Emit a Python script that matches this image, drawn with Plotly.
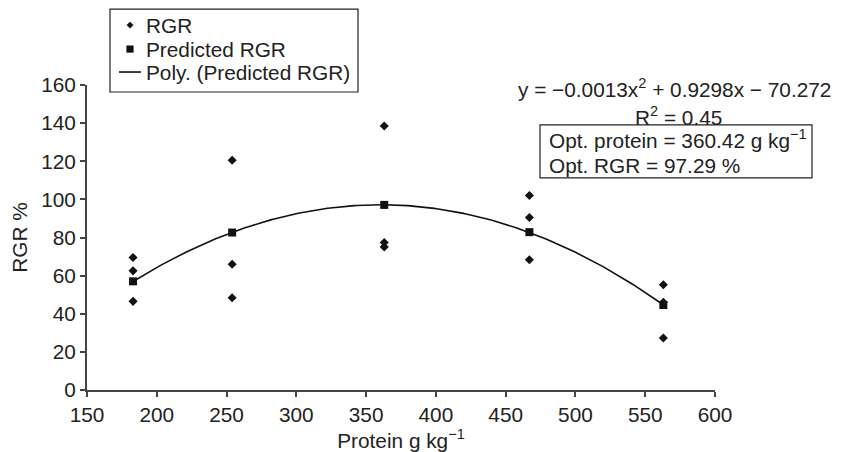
import numpy as np
import plotly.graph_objects as go

# ---- data ----
rgr_protein = [183, 183, 183, 254, 254, 254, 363, 363, 363, 467, 467, 467, 563, 563, 563]
rgr_values = [69.5, 62.5, 46.5, 120.5, 66.0, 48.4, 138.5, 77.4, 75.0, 102.0, 90.5, 68.3, 55.2, 46.0, 27.3]

pred_protein = [183, 254, 363, 467, 563]
pred_values = [57.0, 82.6, 97.1, 82.8, 44.6]

x_ticks = [150, 200, 250, 300, 350, 400, 450, 500, 550, 600]
y_ticks = [0, 20, 40, 60, 80, 100, 120, 140, 160]

legend_labels = ["RGR", "Predicted RGR", "Poly. (Predicted RGR)"]

# polynomial trendline (order 2) fitted to predicted RGR
coef = np.polyfit(pred_protein, pred_values, 2)
xs = np.linspace(min(pred_protein), max(pred_protein), 200)
ys = np.polyval(coef, xs)

FONT = "Liberation Sans, Arial, Helvetica, sans-serif"
AX = "#444444"
INK = "#111111"
FS = 20.8

# plot area in screen pixels (page has an 8px body offset)
PL, PT, PW, PH = 87.0, 85.0, 628.0, 305.5


def px(xp):
    return (xp - PL) / PW


def py(yp):
    return (PT + PH - yp) / PH


fig = go.Figure()
fig.add_trace(go.Scatter(x=rgr_protein, y=rgr_values, mode="markers", name=legend_labels[0],
                         marker=dict(symbol="diamond", size=7, color=INK), showlegend=False))
fig.add_trace(go.Scatter(x=pred_protein, y=pred_values, mode="markers", name=legend_labels[1],
                         marker=dict(symbol="square", size=8, color=INK), showlegend=False))
fig.add_trace(go.Scatter(x=xs, y=ys, mode="lines", name=legend_labels[2],
                         line=dict(color=INK, width=1.6), showlegend=False))

fig.update_layout(
    width=841, height=452,
    margin=dict(l=79, r=134, t=77, b=69.5, autoexpand=False),
    paper_bgcolor="white", plot_bgcolor="white",
    font=dict(family=FONT, size=FS, color="#222222"),
    showlegend=False,
    xaxis=dict(range=[150, 600], tickvals=x_ticks, showgrid=False, zeroline=False,
               showline=True, linecolor=AX, linewidth=2, ticks="outside", ticklen=5,
               tickcolor=AX, tickwidth=1.5, tickfont=dict(size=FS),
               title=dict(text="Protein g kg<sup>\u22121</sup>", font=dict(size=FS), standoff=6)),
    yaxis=dict(range=[0, 160], tickvals=y_ticks, showgrid=False, zeroline=False,
               showline=True, linecolor=AX, linewidth=2, ticks="outside", ticklen=5,
               tickcolor=AX, tickwidth=1.5, tickfont=dict(size=FS),
               title=dict(text="RGR %", font=dict(size=FS), standoff=10)),
    xaxis2=dict(range=[150, 600], tickvals=x_ticks, overlaying="x", side="bottom",
                showgrid=False, zeroline=False, showline=False, ticks="inside", ticklen=5,
                tickcolor=AX, tickwidth=1.5, showticklabels=False),
    yaxis2=dict(range=[0, 160], tickvals=y_ticks, overlaying="y", side="left",
                showgrid=False, zeroline=False, showline=False, ticks="inside", ticklen=5,
                tickcolor=AX, tickwidth=1.5, showticklabels=False),
)

# ---- legend (compact, drawn as layout decoration) ----
fig.add_shape(type="rect", xref="paper", yref="paper",
              x0=px(110), x1=px(358), y0=py(92), y1=py(9),
              line=dict(color="#222222", width=1.2), fillcolor="white", layer="above")
leg_y = [25, 49, 72]
# diamond symbol
fig.add_shape(type="path", xref="paper", yref="paper", xsizemode="pixel", ysizemode="pixel",
              xanchor=px(130), yanchor=py(leg_y[0]),
              path="M -3.2 0 L 0 3.2 L 3.2 0 L 0 -3.2 Z",
              line=dict(color=INK, width=0.5), fillcolor=INK, layer="above")
# square symbol
fig.add_shape(type="path", xref="paper", yref="paper", xsizemode="pixel", ysizemode="pixel",
              xanchor=px(130), yanchor=py(leg_y[1]),
              path="M -3.3 -3.3 L 3.3 -3.3 L 3.3 3.3 L -3.3 3.3 Z",
              line=dict(color=INK, width=0.5), fillcolor=INK, layer="above")
# line symbol
fig.add_shape(type="line", xref="paper", yref="paper",
              x0=px(119), x1=px(141), y0=py(leg_y[2]), y1=py(leg_y[2]),
              line=dict(color=INK, width=1.6), layer="above")
for lab, yy in zip(legend_labels, leg_y):
    fig.add_annotation(xref="paper", yref="paper", x=px(144), y=py(yy), text=lab,
                       showarrow=False, xanchor="left", yanchor="middle", font=dict(size=FS))

# ---- equation / optimum annotations ----
fig.add_annotation(xref="paper", yref="paper", x=px(674), y=py(88),
                   text="y = \u22120.0013x<sup>2</sup> + 0.9298x \u2212 70.272",
                   showarrow=False, xanchor="center", yanchor="middle", font=dict(size=FS))
fig.add_annotation(xref="paper", yref="paper", x=px(678), y=py(116.5),
                   text="R<sup>2</sup> = 0.45",
                   showarrow=False, xanchor="center", yanchor="middle", font=dict(size=FS))
fig.add_shape(type="rect", xref="paper", yref="paper",
              x0=px(540), x1=px(812), y0=py(178), y1=py(125),
              line=dict(color="#222222", width=1.2), fillcolor="white", layer="below")
fig.add_annotation(xref="paper", yref="paper", x=px(547), y=py(139),
                   text="Opt. protein = 360.42 g kg<sup>\u22121</sup>",
                   showarrow=False, xanchor="left", yanchor="middle", font=dict(size=FS))
fig.add_annotation(xref="paper", yref="paper", x=px(547), y=py(166),
                   text="Opt. RGR = 97.29 %",
                   showarrow=False, xanchor="left", yanchor="middle", font=dict(size=FS))

fig.write_html("out.html")
